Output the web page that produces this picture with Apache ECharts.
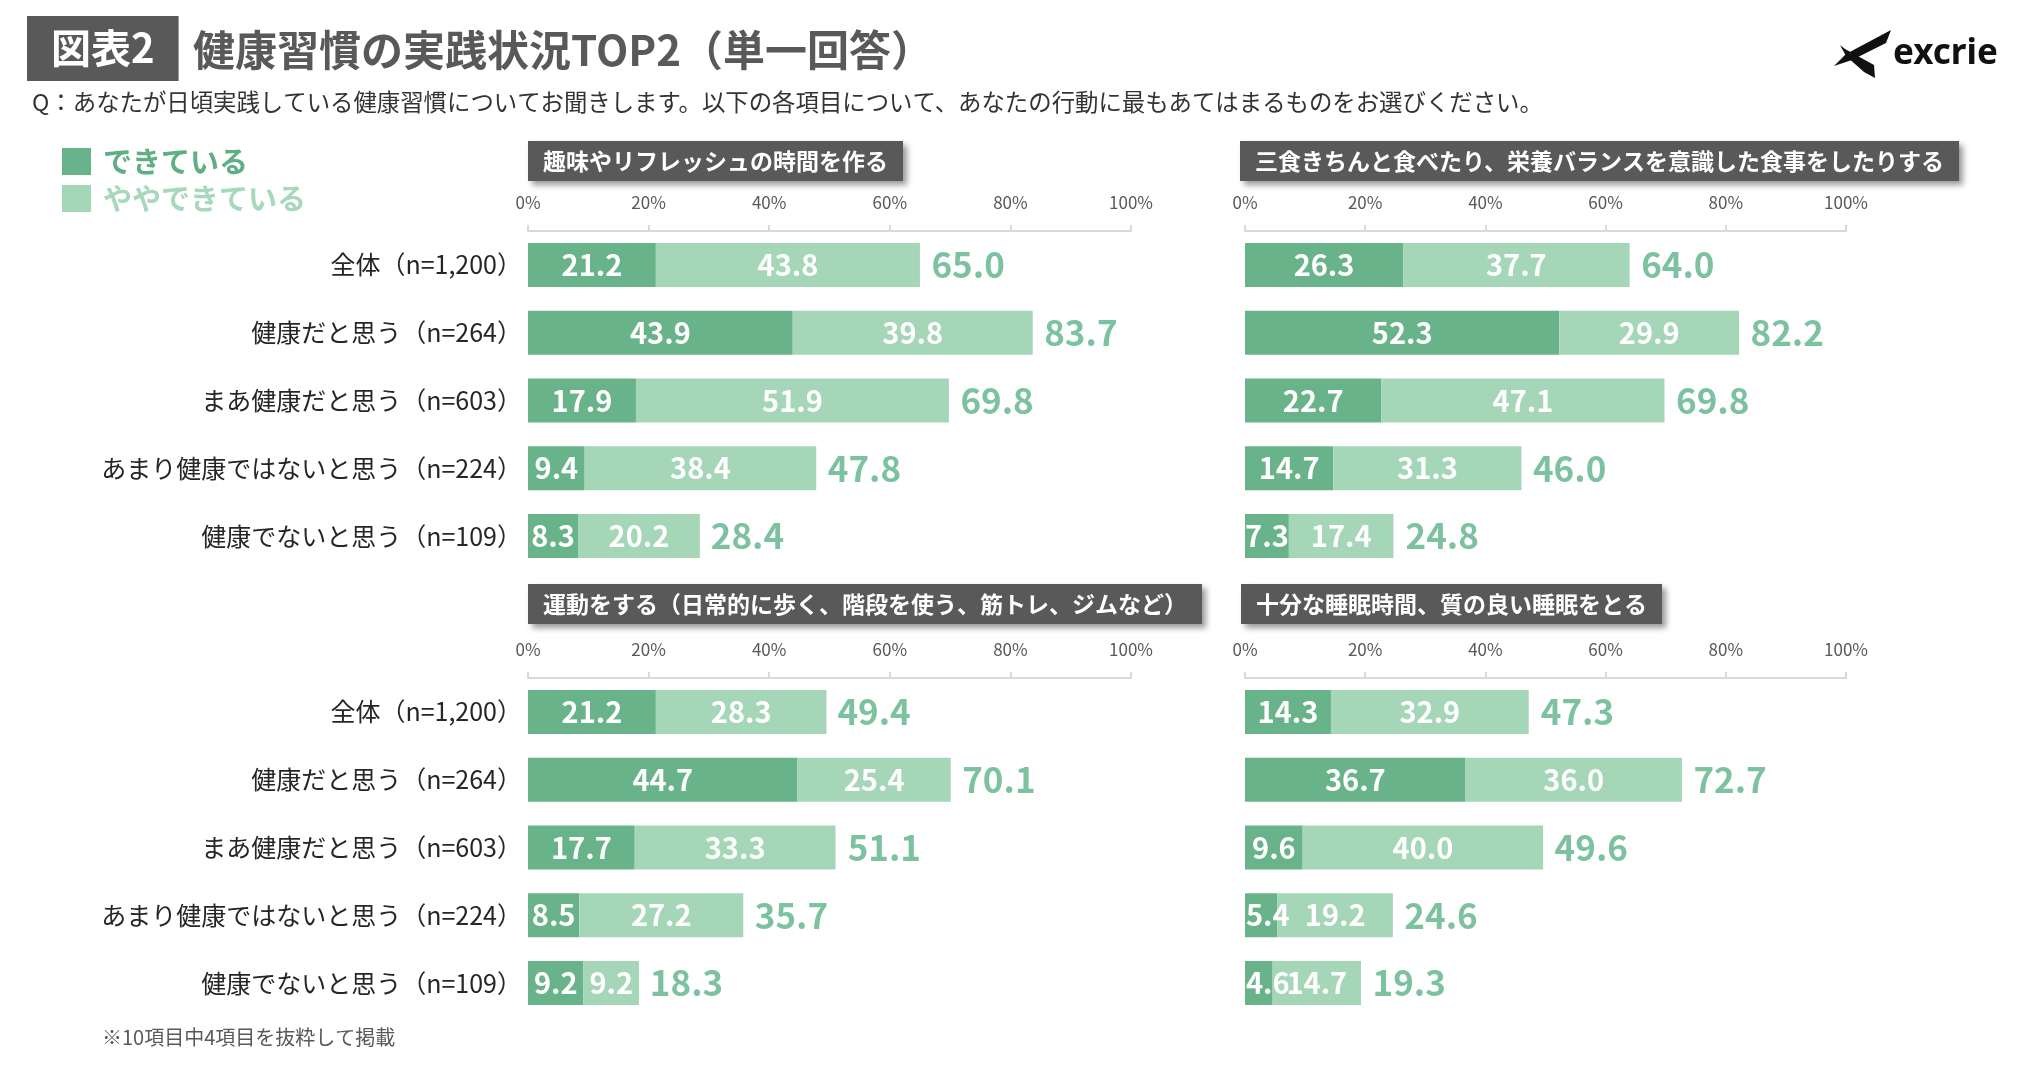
<!DOCTYPE html>
<html lang="ja">
<head>
<meta charset="UTF-8">
<title>健康習慣の実践状況TOP2</title>
<script src="https://cdn.jsdelivr.net/npm/echarts@6/dist/echarts.min.js"></script>
<style>
  html, body { margin: 0; padding: 0; background: #fff; }
  #main { width: 2030px; height: 1068px; }
</style>
</head>
<body>
<div id="main"></div>
<script>
// 属性（行）
var categories = ['全体（n=1,200）', '健康だと思う（n=264）', 'まあ健康だと思う（n=603）', 'あまり健康ではないと思う（n=224）', '健康でないと思う（n=109）'];
var seriesNames = ['できている', 'ややできている'];
var tickLabels = ['0%', '20%', '40%', '60%', '80%', '100%'];

// 各項目
var panelTitles = [
    '趣味やリフレッシュの時間を作る',
    '三食きちんと食べたり、栄養バランスを意識した食事をしたりする',
    '運動をする（日常的に歩く、階段を使う、筋トレ、ジムなど）',
    '十分な睡眠時間、質の良い睡眠をとる'
];

var hobbyDone = [21.2, 43.9, 17.9, 9.4, 8.3];
var hobbySome = [43.8, 39.8, 51.9, 38.4, 20.2];
var hobbyTotal = [65.0, 83.7, 69.8, 47.8, 28.4];

var mealDone = [26.3, 52.3, 22.7, 14.7, 7.3];
var mealSome = [37.7, 29.9, 47.1, 31.3, 17.4];
var mealTotal = [64.0, 82.2, 69.8, 46.0, 24.8];

var exerciseDone = [21.2, 44.7, 17.7, 8.5, 9.2];
var exerciseSome = [28.3, 25.4, 33.3, 27.2, 9.2];
var exerciseTotal = [49.4, 70.1, 51.1, 35.7, 18.3];

var sleepDone = [14.3, 36.7, 9.6, 5.4, 4.6];
var sleepSome = [32.9, 36.0, 40.0, 19.2, 14.7];
var sleepTotal = [47.3, 72.7, 49.6, 24.6, 19.3];

var panelData = [
    [hobbyDone, hobbySome, hobbyTotal],
    [mealDone, mealSome, mealTotal],
    [exerciseDone, exerciseSome, exerciseTotal],
    [sleepDone, sleepSome, sleepTotal]
];

var darkGreen = '#69b38a';
var lightGreen = '#a5d6b8';
var totalGreen = '#5cb386';
var font = '"Noto Sans CJK JP", "Noto Sans", sans-serif';

var gridPos = [
    { left: 528, top: 231, width: 603, height: 339 },
    { left: 1245, top: 231, width: 601, height: 339 },
    { left: 528, top: 678, width: 603, height: 339 },
    { left: 1245, top: 678, width: 601, height: 339 }
];
var boxPos = [
    { left: 528, top: 141 },
    { left: 1240, top: 141 },
    { left: 528, top: 584 },
    { left: 1241, top: 584 }
];

var grids = [], xAxes = [], yAxes = [], series = [];
var titles = [
    {
        text: '図表2', left: 27, top: 16,
        backgroundColor: '#595959', padding: [10, 24, 11, 24],
        textStyle: { color: '#fff', fontSize: 40, fontWeight: 'bold', fontFamily: font, lineHeight: 44 }
    },
    {
        text: '健康習慣の実践状況TOP2（単一回答）', left: 193, top: 25, padding: 0,
        textStyle: { color: '#595959', fontSize: 42, fontWeight: 'bold', fontFamily: font, lineHeight: 50 }
    },
    {
        text: 'Q：あなたが日頃実践している健康習慣についてお聞きします。以下の各項目について、あなたの行動に最もあてはまるものをお選びください。',
        left: 32, top: 89, padding: 0,
        textStyle: { color: '#333', fontSize: 23.4, fontWeight: 'normal', fontFamily: font, lineHeight: 26 }
    },
    {
        text: '※10項目中4項目を抜粋して掲載', left: 102, top: 1026, padding: 0,
        textStyle: { color: '#595959', fontSize: 20, fontWeight: 'normal', fontFamily: font, lineHeight: 22 }
    },
    {
        text: 'excrie', left: 1893, top: 34, padding: 0,
        textStyle: { color: '#111', fontSize: 35, fontWeight: 'bold', fontFamily: '"Noto Sans", sans-serif', lineHeight: 40 }
    }
];

// 幅が狭い棒は左寄せでラベルを描く
function barItems(values) {
    return values.map(function (v) {
        if (v < 7) {
            return { value: v, label: { position: 'insideLeft', distance: 1 } };
        }
        return v;
    });
}

panelData.forEach(function (d, i) {
    grids.push(gridPos[i]);
    titles.push({
        text: panelTitles[i], left: boxPos[i].left, top: boxPos[i].top,
        backgroundColor: '#595959', padding: [8, 15, 8, 15],
        shadowColor: 'rgba(0,0,0,0.4)', shadowBlur: 6, shadowOffsetX: 4, shadowOffsetY: 4,
        textStyle: { color: '#fff', fontSize: 23, fontWeight: 'bold', fontFamily: font, lineHeight: 24 }
    });
    xAxes.push({
        gridIndex: i, type: 'value', position: 'top',
        min: 0, max: 100, interval: 20,
        axisLine: { show: true, lineStyle: { color: '#d9d9d9', width: 2 } },
        axisTick: { show: true, length: 6, lineStyle: { color: '#d9d9d9', width: 2 } },
        splitLine: { show: false },
        axisLabel: {
            margin: 20, color: '#595959', fontSize: 17, fontFamily: font,
            formatter: function (v) { return tickLabels[Math.round(v / 20)]; }
        }
    });
    yAxes.push({
        gridIndex: i, type: 'category', inverse: true, data: categories,
        axisLine: { show: false }, axisTick: { show: false },
        axisLabel: {
            show: i % 2 === 0, margin: 6, color: '#262626', fontSize: 25, fontFamily: font
        }
    });
    var inner = {
        show: true, position: 'inside', color: '#fff', fontSize: 29, fontWeight: 'bold', fontFamily: font,
        formatter: function (p) { return p.value.toFixed(1); }
    };
    series.push({
        name: seriesNames[0], type: 'bar', stack: 'p' + i, clip: false,
        xAxisIndex: i, yAxisIndex: i, barWidth: 44,
        itemStyle: { color: darkGreen }, label: inner, data: barItems(d[0])
    });
    series.push({
        name: seriesNames[1], type: 'bar', stack: 'p' + i, clip: false,
        xAxisIndex: i, yAxisIndex: i, barWidth: 44,
        itemStyle: { color: lightGreen }, label: inner, data: d[1]
    });
    series.push({
        name: '合計' + i, type: 'scatter', xAxisIndex: i, yAxisIndex: i, clip: false,
        symbolSize: 1, itemStyle: { color: 'rgba(0,0,0,0)' },
        label: {
            show: true, position: 'right', distance: 11,
            color: totalGreen, fontSize: 35, fontWeight: 'bold', fontFamily: font,
            formatter: function (p) { return p.value[0].toFixed(1); }
        },
        data: d[2].map(function (t, k) { return [t, k]; })
    });
});

var chart = echarts.init(document.getElementById('main'));
chart.setOption({
    animation: false,
    backgroundColor: '#fff',
    textStyle: { fontFamily: font },
    title: titles,
    legend: {
        orient: 'vertical', left: 62, top: 147, padding: 0,
        itemWidth: 29, itemHeight: 27, itemGap: 8, icon: 'rect',
        selectedMode: false,
        data: [
            { name: seriesNames[0], textStyle: { color: '#5fae84' } },
            { name: seriesNames[1], textStyle: { color: '#a8d8bb' } }
        ],
        textStyle: { fontSize: 29, fontWeight: 'bold', fontFamily: font, lineHeight: 28, padding: [0, 0, 0, 7] }
    },
    graphic: [
        // ロゴのマーク
        {
            type: 'polygon', z: 10,
            shape: { points: [[1891, 30], [1886, 43], [1852, 60], [1834, 66], [1846, 54]] },
            style: { fill: '#111' }
        },
        {
            type: 'polygon', z: 10,
            shape: { points: [[1840, 45], [1845, 49], [1874, 65], [1875, 78], [1864, 72], [1846, 56]] },
            style: { fill: '#111' }
        }
    ],
    grid: grids,
    xAxis: xAxes,
    yAxis: yAxes,
    series: series
});
</script>
</body>
</html>
